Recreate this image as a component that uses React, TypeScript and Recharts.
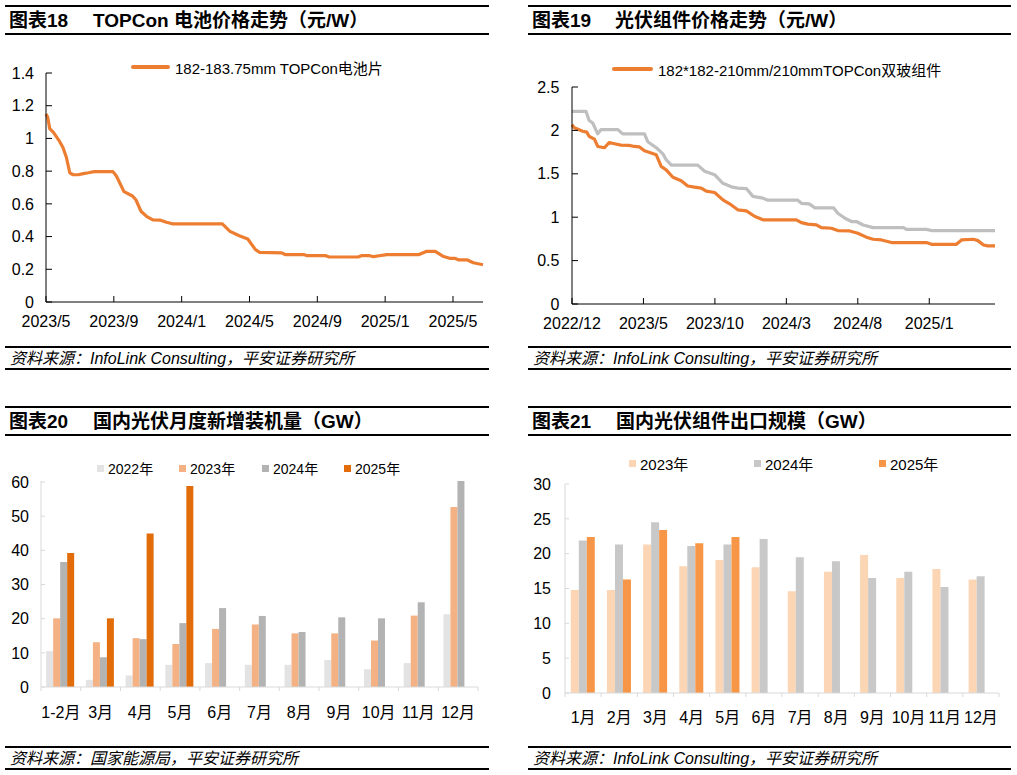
import React from 'react';
import { LineChart, Line, BarChart, Bar, XAxis, YAxis } from 'recharts';

const FONT = '"Liberation Sans", Arial, "Noto Sans CJK SC", sans-serif';

// 图表18: months since 2023/5
const cellMonths = [0, 0.1, 0.22, 0.45, 0.75, 1.0, 1.2, 1.4, 1.6, 1.9, 2.2, 2.5, 2.85, 3.95, 4.15, 4.6, 5.1, 5.3, 5.6, 5.95, 6.3, 6.75, 7.1, 7.45, 10.4, 10.85, 11.4, 11.9, 12.35, 12.6, 13.9, 14.1, 15.2, 15.4, 16.5, 16.7, 18.4, 18.6, 19.1, 19.3, 19.65, 20.1, 22.0, 22.45, 22.95, 23.4, 23.8, 24.1, 24.35, 24.85, 25.2, 25.77];
const cellPrice = [1.15, 1.13, 1.06, 1.035, 0.99, 0.945, 0.885, 0.79, 0.778, 0.778, 0.785, 0.79, 0.797, 0.797, 0.77, 0.675, 0.648, 0.625, 0.555, 0.522, 0.502, 0.5, 0.488, 0.478, 0.478, 0.432, 0.405, 0.385, 0.32, 0.303, 0.3, 0.29, 0.29, 0.283, 0.283, 0.275, 0.275, 0.283, 0.283, 0.277, 0.283, 0.29, 0.29, 0.31, 0.31, 0.28, 0.267, 0.267, 0.257, 0.257, 0.24, 0.228];
const cellTicks = [0, 4, 8, 12, 16, 20, 24];
const cellTickLabels = ['2023/5', '2023/9', '2024/1', '2024/5', '2024/9', '2025/1', '2025/5'];
const cellYTicks = [0, 0.2, 0.4, 0.6, 0.8, 1, 1.2, 1.4];

// 图表19: months since 2022/12
const grayMonths = [0, 0.98, 1.2, 1.45, 1.8, 2.03, 3.2, 3.55, 5.07, 5.3, 5.9, 6.36, 6.6, 6.95, 8.8, 9.28, 9.98, 10.56, 11.15, 11.6, 12.2, 12.66, 13.36, 13.7, 15.8, 16.05, 16.6, 17.0, 18.3, 18.6, 19.1, 19.56, 19.9, 20.37, 21.07, 23.2, 23.4, 24.8, 25.2, 29.6];
const grayPrice = [2.22, 2.22, 2.115, 2.085, 1.96, 2.01, 2.01, 1.96, 1.96, 1.87, 1.8, 1.73, 1.66, 1.6, 1.6, 1.53, 1.49, 1.39, 1.35, 1.335, 1.33, 1.24, 1.22, 1.196, 1.196, 1.16, 1.154, 1.108, 1.108, 1.046, 0.988, 0.95, 0.95, 0.91, 0.88, 0.88, 0.86, 0.86, 0.846, 0.846];
const moduleMonths = [0, 0.16, 0.75, 1.03, 1.21, 1.57, 1.8, 2.27, 2.6, 2.97, 3.43, 4.0, 4.37, 4.72, 5.07, 5.54, 5.89, 6.24, 6.59, 7.06, 7.64, 8.1, 8.57, 9.04, 9.4, 9.98, 10.56, 11.03, 11.6, 12.2, 12.8, 13.36, 15.7, 16.05, 16.5, 17.1, 17.45, 18.15, 18.6, 19.44, 20.0, 20.6, 21.07, 21.66, 22.36, 24.8, 25.16, 26.9, 27.26, 28.1, 28.4, 28.8, 29.1, 29.6];
const modulePrice = [2.065, 2.03, 1.99, 1.98, 1.93, 1.9, 1.815, 1.8, 1.86, 1.846, 1.83, 1.827, 1.815, 1.81, 1.765, 1.74, 1.72, 1.585, 1.546, 1.46, 1.42, 1.36, 1.346, 1.335, 1.3, 1.285, 1.2, 1.154, 1.085, 1.073, 1.008, 0.97, 0.97, 0.938, 0.92, 0.912, 0.88, 0.873, 0.846, 0.842, 0.815, 0.77, 0.746, 0.738, 0.708, 0.708, 0.688, 0.688, 0.738, 0.746, 0.73, 0.68, 0.67, 0.67];
const moduleTicks = [0, 5, 10, 15, 20, 25];
const moduleTickLabels = ['2022/12', '2023/5', '2023/10', '2024/3', '2024/8', '2025/1'];
const moduleYTicks = [0, 0.5, 1, 1.5, 2, 2.5];

// 图表20
const installMonths = ['1-2月', '3月', '4月', '5月', '6月', '7月', '8月', '9月', '10月', '11月', '12月'];
const install2022 = [10.5, 2.1, 3.4, 6.5, 7.0, 6.5, 6.5, 7.9, 5.2, 7.0, 21.3];
const install2023 = [20.1, 13.1, 14.3, 12.6, 17.0, 18.3, 15.7, 15.7, 13.6, 20.9, 52.7];
const install2024 = [36.6, 8.7, 14.0, 18.7, 23.1, 20.8, 16.1, 20.4, 20.1, 24.8, 60.3];
const install2025 = [39.2, 20.1, 44.9, 58.8, null, null, null, null, null, null, null];
const installYTicks = [0, 10, 20, 30, 40, 50, 60];

// 图表21
const exportMonths = ['1月', '2月', '3月', '4月', '5月', '6月', '7月', '8月', '9月', '10月', '11月', '12月'];
const export2023 = [14.8, 14.8, 21.3, 18.2, 19.1, 18.05, 14.6, 17.4, 19.8, 16.5, 17.8, 16.3];
const export2024 = [21.9, 21.3, 24.5, 21.1, 21.3, 22.1, 19.5, 18.9, 16.5, 17.4, 15.2, 16.75];
const export2025 = [22.4, 16.3, 23.4, 21.5, 22.4, null, null, null, null, null, null, null];
const exportYTicks = [0, 5, 10, 15, 20, 25, 30];

const cellData = cellMonths.map((m, i) => ({ m, v: cellPrice[i] }));
const moduleData = [
  ...grayMonths.map((m, i) => ({ m, gray: grayPrice[i] })),
  ...moduleMonths.map((m, i) => ({ m, orange: modulePrice[i] })),
].sort((a, b) => a.m - b.m);
const installData = installMonths.map((name, i) => ({
  name, y2022: install2022[i], y2023: install2023[i], y2024: install2024[i], y2025: install2025[i],
}));
const exportData = exportMonths.map((name, i) => ({
  name, y2023: export2023[i], y2024: export2024[i], y2025: export2025[i],
}));

const tickStyle = { fill: '#000', fontSize: 16, fontFamily: FONT };

type PanelProps = {
  left: number; width: number; top: number; num: string; title: string; titleX: number;
  source: string; sourceTop: number;
};

const Panel = ({ left, width, top, num, title, titleX, source, sourceTop }: PanelProps) => (
  <>
    <div style={{ position: 'absolute', left, top, width, height: 1.5, background: '#000' }} />
    <div style={{ position: 'absolute', left: left + 4, top: top + 5, height: 22, lineHeight: '22px', fontSize: 19, fontWeight: 'bold', whiteSpace: 'nowrap' }}>{num}</div>
    <div style={{ position: 'absolute', left: titleX, top: top + 5, height: 22, lineHeight: '22px', fontSize: 19, fontWeight: 'bold', whiteSpace: 'nowrap' }}>{title}</div>
    <div style={{ position: 'absolute', left, top: top + 28, width, height: 1.5, background: '#000' }} />
    <div style={{ position: 'absolute', left, top: sourceTop, width, height: 1.5, background: '#000' }} />
    <div style={{ position: 'absolute', left: left + 5, top: sourceTop + 2, height: 21, lineHeight: '21px', fontSize: 16, fontStyle: 'italic', whiteSpace: 'nowrap' }}>{source}</div>
    <div style={{ position: 'absolute', left, top: sourceTop + 22, width, height: 2, background: '#000' }} />
  </>
);

const makeBandTick = (margin: number, count: number, bandFallback: number) => (props: any) => {
  const { x, y, payload, index } = props;
  const half = payload && typeof payload.offset === 'number' && payload.offset > 0 ? payload.offset : bandFallback / 2;
  const axisY = y - margin;
  return (
    <g>
      <line x1={x - half} x2={x - half} y1={axisY} y2={axisY + 4} stroke="#d9d9d9" />
      {index === count - 1 && <line x1={x + half} x2={x + half} y1={axisY} y2={axisY + 4} stroke="#d9d9d9" />}
      <text x={x} y={y} dy="0.71em" textAnchor="middle" fontSize={16} fontFamily={FONT} fill="#000">{payload.value}</text>
    </g>
  );
};

const Square = ({ left, top, color, label, size }: { left: number; top: number; color: string; label: string; size: number }) => (
  <div style={{ position: 'absolute', left, top, display: 'flex', alignItems: 'center', whiteSpace: 'nowrap', fontSize: size, height: 18 }}>
    <span style={{ display: 'inline-block', width: 7, height: 7, background: color, marginRight: 4 }} />
    <span>{label}</span>
  </div>
);

export default function App() {
  return (
    <div style={{ position: 'absolute', left: 0, top: 0, width: 1017, height: 775, background: '#fff', fontFamily: FONT, color: '#000', overflow: 'hidden' }}>
      <Panel left={5} width={484} top={5} num="图表18" title="TOPCon 电池价格走势（元/W）" titleX={93}
        source="资料来源：InfoLink Consulting，平安证券研究所" sourceTop={346} />
      <Panel left={528} width={483} top={5} num="图表19" title="光伏组件价格走势（元/W）" titleX={615}
        source="资料来源：InfoLink Consulting，平安证券研究所" sourceTop={346} />
      <Panel left={5} width={484} top={406} num="图表20" title="国内光伏月度新增装机量（GW）" titleX={93}
        source="资料来源：国家能源局，平安证券研究所" sourceTop={746} />
      <Panel left={528} width={483} top={406} num="图表21" title="国内光伏组件出口规模（GW）" titleX={616}
        source="资料来源：InfoLink Consulting，平安证券研究所" sourceTop={746} />

      {/* legend 18 */}
      <div style={{ position: 'absolute', left: 131, top: 58, height: 18, display: 'flex', alignItems: 'center', fontSize: 15, whiteSpace: 'nowrap' }}>
        <span style={{ display: 'inline-block', width: 39, height: 4, borderRadius: 2, background: '#ED7D31', marginRight: 5 }} />
        <span>182-183.75mm TOPCon电池片</span>
      </div>
      {/* legend 19 */}
      <div style={{ position: 'absolute', left: 612, top: 60, height: 18, display: 'flex', alignItems: 'center', fontSize: 15, whiteSpace: 'nowrap' }}>
        <span style={{ display: 'inline-block', width: 41, height: 4, borderRadius: 2, background: '#ED7D31', marginRight: 5 }} />
        <span>182*182-210mm/210mmTOPCon双玻组件</span>
      </div>
      {/* legend 20 */}
      <Square left={97} top={459} color="#E3E3E3" label="2022年" size={14} />
      <Square left={179} top={459} color="#F4B183" label="2023年" size={14} />
      <Square left={262} top={459} color="#B3B3B3" label="2024年" size={14} />
      <Square left={344} top={459} color="#E36C0A" label="2025年" size={14} />
      {/* legend 21 */}
      <Square left={629} top={454} color="#FCD5B5" label="2023年" size={15} />
      <Square left={754} top={454} color="#C8C8C8" label="2024年" size={15} />
      <Square left={879} top={454} color="#F79646" label="2025年" size={15} />

      <div style={{ position: 'absolute', left: 0, top: 40 }}>
        <LineChart width={500} height={300} data={cellData} margin={{ top: 33, right: 17, bottom: 0, left: 0 }}>
          <XAxis type="number" dataKey="m" domain={[0, 25.77]} ticks={cellTicks}
            tickFormatter={(v: number) => cellTickLabels[cellTicks.indexOf(v)]}
            axisLine={{ stroke: '#000' }} tickLine={{ stroke: '#000' }} tickSize={-6} tickMargin={20}
            tick={tickStyle} height={38} interval={0} />
          <YAxis type="number" domain={[0, 1.4]} ticks={cellYTicks} width={46}
            axisLine={{ stroke: '#000' }} tickLine={{ stroke: '#000' }} tickSize={-6} tickMargin={18}
            tick={tickStyle} interval={0} />
          <Line type="linear" dataKey="v" stroke="#ED7D31" strokeWidth={3.2} dot={false} isAnimationActive={false} strokeLinejoin="round" />
        </LineChart>
      </div>

      <div style={{ position: 'absolute', left: 508, top: 40 }}>
        <LineChart width={509} height={300} data={moduleData} margin={{ top: 47, right: 22, bottom: 0, left: 0 }}>
          <XAxis type="number" dataKey="m" domain={[0, 29.6]} ticks={moduleTicks}
            tickFormatter={(v: number) => moduleTickLabels[moduleTicks.indexOf(v)]}
            axisLine={{ stroke: '#000' }} tickLine={{ stroke: '#000' }} tickSize={-6} tickMargin={20}
            tick={tickStyle} height={36} interval={0} />
          <YAxis type="number" domain={[0, 2.5]} ticks={moduleYTicks} width={64}
            axisLine={{ stroke: '#000' }} tickLine={{ stroke: '#000' }} tickSize={-6} tickMargin={18.6}
            tick={tickStyle} interval={0} />
          <Line type="linear" dataKey="gray" stroke="#BFBFBF" strokeWidth={3.2} dot={false} connectNulls isAnimationActive={false} legendType="none" strokeLinejoin="round" />
          <Line type="linear" dataKey="orange" stroke="#ED7D31" strokeWidth={3.2} dot={false} connectNulls isAnimationActive={false} strokeLinejoin="round" />
        </LineChart>
      </div>

      <div style={{ position: 'absolute', left: 0, top: 440 }}>
        <BarChart width={500} height={300} data={installData} margin={{ top: 41, right: 22, bottom: 0, left: 0 }}
          barCategoryGap="13%" barGap={0}>
          <XAxis dataKey="name" interval={0} height={53} axisLine={{ stroke: '#d9d9d9' }} tickLine={false}
            tickSize={0} tickMargin={20} tick={makeBandTick(20, installMonths.length, 437 / installMonths.length)} />
          <YAxis type="number" domain={[0, 60]} ticks={installYTicks} width={41}
            axisLine={{ stroke: '#d9d9d9' }} tickLine={{ stroke: '#d9d9d9' }} tickSize={-4} tickMargin={16}
            tick={tickStyle} interval={0} />
          <Bar dataKey="y2022" fill="#E3E3E3" isAnimationActive={false} />
          <Bar dataKey="y2023" fill="#F4B183" isAnimationActive={false} />
          <Bar dataKey="y2024" fill="#B3B3B3" isAnimationActive={false} />
          <Bar dataKey="y2025" fill="#E36C0A" isAnimationActive={false} />
        </BarChart>
      </div>

      <div style={{ position: 'absolute', left: 508, top: 440 }}>
        <BarChart width={509} height={300} data={exportData} margin={{ top: 44, right: 18, bottom: 0, left: 0 }}
          barCategoryGap="16%" barGap={0}>
          <XAxis dataKey="name" interval={0} height={47} axisLine={{ stroke: '#d9d9d9' }} tickLine={false}
            tickSize={0} tickMargin={19} tick={makeBandTick(19, exportMonths.length, 433 / exportMonths.length)} />
          <YAxis type="number" domain={[0, 30]} ticks={exportYTicks} width={57}
            axisLine={{ stroke: '#d9d9d9' }} tickLine={{ stroke: '#d9d9d9' }} tickSize={-4} tickMargin={18}
            tick={tickStyle} interval={0} />
          <Bar dataKey="y2023" fill="#FCD5B5" isAnimationActive={false} />
          <Bar dataKey="y2024" fill="#C8C8C8" isAnimationActive={false} />
          <Bar dataKey="y2025" fill="#F79646" isAnimationActive={false} />
        </BarChart>
      </div>
    </div>
  );
}
